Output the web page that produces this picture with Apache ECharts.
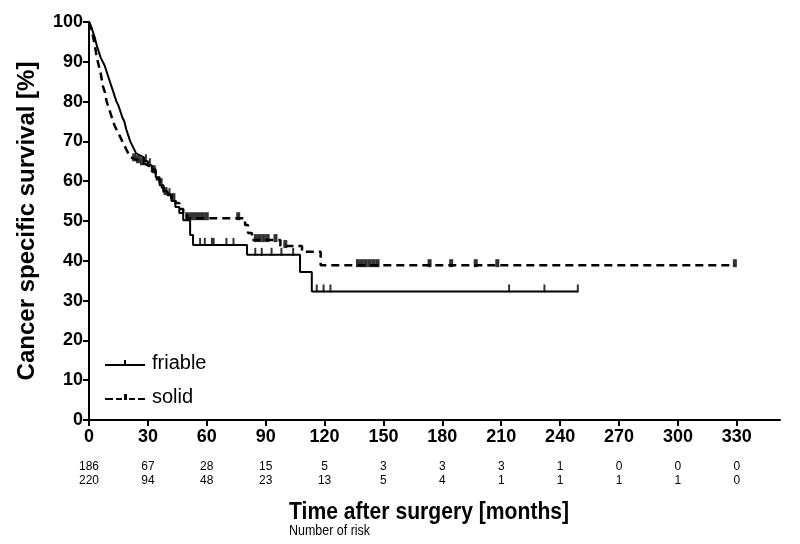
<!DOCTYPE html>
<html>
<head>
<meta charset="utf-8">
<script src="https://cdn.jsdelivr.net/npm/echarts@6/dist/echarts.min.js"></script>
<style>
html,body{margin:0;padding:0;background:#fff;}
#c{width:800px;height:544px;}
</style>
</head>
<body>
<div id="c"></div>
<script>
// ---- data ----
var xTicks = [0, 30, 60, 90, 120, 150, 180, 210, 240, 270, 300, 330];
var riskFriable = [186, 67, 28, 15, 5, 3, 3, 3, 1, 0, 0, 0];
var riskSolid = [220, 94, 48, 23, 13, 5, 4, 1, 1, 1, 1, 0];

var friableCurve = [[0,100],[1,99],[2,97.5],[3,96],[4,94],[5,92.5],[6,91],[7,90],[8,89],[9,87.5],[10,86],[11,84.5],[12,83],[13,81.5],[14,80],[15,79],[16,77.5],[17,76],[18,75],[19,73],[20,71.5],[21,70],[22,69],[23,68],[24,67],[25,66.5],[26,66],[28,65],[30,64],[32,63],[34,61],[36,59],[38,57.5],[40,56.5],[42,55],[44,53.5],[46,52],[48,50.2],[51.5,46.5],[53,44],[80.5,41.5],[107.5,37.2],[113.5,32.3],[249,32.3]];
var solidCurve = [[0,100],[1,98.5],[2,96.5],[3,94],[4,91],[5,89],[6,87],[7,84],[8,82.5],[9,80],[10,78.5],[11,77],[12,75.5],[13,74],[14,73],[15,72],[16,71],[17,70],[18,69],[19,68],[20,67],[21,66],[22,65.5],[24,65],[26,64.5],[28,64],[30,63.5],[32,62.5],[34,60.5],[36,58.5],[38,57],[40,56.5],[42,55.5],[44,54.5],[46,53],[48,51.5],[50,50.7],[79.5,49],[81,47],[83,45.2],[97.5,43.7],[108.5,42.3],[118,38.9],[329,38.9]];

var friableCensored = [[29,65],[31,64],[37,59],[41,56.5],[56.6,44],[59,44],[62.6,44],[63.5,44],[70,44],[73.6,44],[84.7,41.5],[88,41.5],[93,41.5],[98,41.5],[104,41.5],[116,32.3],[119.5,32.3],[123,32.3],[214,32.3],[232,32.3],[249,32.3]];
var solidCensored = [[23,65.5],[25,65],[27,64.5],[33,62.5],[39,57],[43,55.5],[50,50.7],[52,50.7],[54,50.7],[56,50.7],[58,50.7],[60,50.7],[76,50.7],[85,45.2],[87,45.2],[89,45.2],[91,45.2],[95,45.2],[100,43.7],[137,38.9],[139,38.9],[141,38.9],[143,38.9],[145,38.9],[147,38.9],[173.5,38.9],[184.5,38.9],[197,38.9],[208,38.9],[329,38.9]];

var xTitle = 'Time after surgery [months]';
var xSubtitle = 'Number of risk';
var yTitle = 'Cancer specific survival [%]';

function riskAxis(values, offset) {
  return {
    type: 'value', min: 0, max: 352, position: 'bottom', offset: offset,
    axisLine: {show: false}, axisTick: {show: false}, splitLine: {show: false},
    axisLabel: {
      customValues: xTicks, margin: 0,
      fontFamily: 'Liberation Sans', fontSize: 12, color: '#000',
      formatter: function (v) { var i = xTicks.indexOf(v); return i >= 0 ? String(values[i]) : ''; }
    }
  };
}

var chart = echarts.init(document.getElementById('c'), null, {renderer: 'canvas'});
chart.setOption({
  animation: false,
  backgroundColor: '#fff',
  grid: {left: 89, right: 20, top: 22, bottom: 124, containLabel: false},
  graphic: [
    {type: 'text', left: 289, top: 500, scaleX: 0.88, originX: 0,
     style: {text: xTitle, font: 'bold 24px "Liberation Sans"', fill: '#000'}},
    {type: 'text', left: 289, top: 524, scaleX: 0.89, originX: 0,
     style: {text: xSubtitle, font: '14px "Liberation Sans"', fill: '#000'}}
  ],
  legend: {
    data: [
      {name: 'friable', icon: 'path://M0,4H40V6H0Z M19,0H21V6H19Z'},
      {name: 'solid', icon: 'path://M0,4H8V6H0Z M11,4H17V6H11Z M19,0H22V6H19Z M24,4H30V6H24Z M33,4H40V6H33Z'}
    ],
    orient: 'vertical', left: 105, top: 353, padding: 0, itemWidth: 40, itemHeight: 10, itemGap: 14,
    textStyle: {fontFamily: 'Liberation Sans', fontSize: 20, color: '#000', padding: [0, 0, 0, 2]},
    itemStyle: {color: '#000'}
  },
  xAxis: [{
    type: 'value', min: 0, max: 352,
    axisLine: {show: true, lineStyle: {color: '#000', width: 2}},
    axisTick: {show: true, customValues: xTicks, length: 6, lineStyle: {color: '#000', width: 2}},
    axisLabel: {customValues: xTicks, margin: 8, fontFamily: 'Liberation Sans', fontWeight: 'bold', fontSize: 18, color: '#000'},
    splitLine: {show: false}
  }, riskAxis(riskFriable, 41), riskAxis(riskSolid, 55)],
  yAxis: {
    type: 'value', min: 0, max: 100, interval: 10,
    name: yTitle, nameLocation: 'middle', nameGap: 50,
    nameTextStyle: {fontFamily: 'Liberation Sans', fontWeight: 'bold', fontSize: 24, color: '#000'},
    axisLine: {show: true, lineStyle: {color: '#000', width: 2}},
    axisTick: {show: true, length: 6, lineStyle: {color: '#000', width: 2}},
    axisLabel: {margin: 6, fontFamily: 'Liberation Sans', fontWeight: 'bold', fontSize: 18, color: '#000'},
    splitLine: {show: false}
  },
  series: [
    {name: 'friable', type: 'line', step: 'end', data: friableCurve, showSymbol: false, symbol: 'none',
     lineStyle: {color: '#000', width: 2}, itemStyle: {color: '#000'}},
    {name: 'solid', type: 'line', step: 'end', data: solidCurve, showSymbol: false, symbol: 'none',
     lineStyle: {color: '#000', width: 2.5, type: [8, 5]}, itemStyle: {color: '#000'}},
    {name: 'friable censored', type: 'scatter', data: friableCensored, symbol: 'rect', symbolSize: [2, 8], symbolOffset: [0, -3],
     itemStyle: {color: '#000'}, z: 3},
    {name: 'solid censored', type: 'scatter', data: solidCensored, symbol: 'rect', symbolSize: [4, 8], symbolOffset: [0, -2],
     itemStyle: {color: '#000'}, z: 3}
  ]
});
</script>
</body>
</html>
